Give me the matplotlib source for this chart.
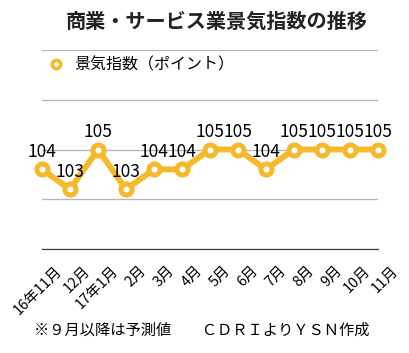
import matplotlib
matplotlib.use("Agg")
import matplotlib.pyplot as plt
from matplotlib.lines import Line2D
import matplotlib.transforms as mtransforms

plt.rcParams['font.family'] = ['Noto Sans CJK JP', 'DejaVu Sans']

categories = ["16年11月", "12月", "17年1月", "2月", "3月", "4月", "5月", "6月",
              "7月", "8月", "9月", "10月", "11月"]
values = [104, 103, 105, 103, 104, 104, 105, 105, 104, 105, 105, 105, 105]
series_name = "景気指数（ポイント）"
title = "商業・サービス業景気指数の推移"
footnote = "※９月以降は予測値　　ＣＤＲＩよりＹＳＮ作成"

color = "#F5BA2C"
W, H = 410, 353
fig = plt.figure(figsize=(W / 100, H / 100), dpi=100)
ax = fig.add_axes([42 / W, 1 - 249 / H, (378 - 42) / W, (249 - 50) / H])

x = list(range(len(categories)))
ax.plot(x, values, color=color, lw=4.3, marker='o', markersize=8,
        markerfacecolor='white', markeredgecolor=color, markeredgewidth=3.6,
        zorder=3, clip_on=False)
for xi, v in zip(x, values):
    ax.annotate(str(v), (xi, v), xytext=(0, 12.5), textcoords='offset points',
                ha='center', va='center', fontsize=12.5, color='black', zorder=4)

ax.set_xlim(0, len(categories) - 1)
ax.set_ylim(100, 110)
ax.set_yticks([100, 102.5, 105, 107.5, 110])
ax.yaxis.grid(True, color='#b3b3b3', lw=0.9)
ax.set_axisbelow(True)
ax.tick_params(axis='y', length=0, labelleft=False)
ax.tick_params(axis='x', length=0, pad=2)
for s in ['top', 'left', 'right']:
    ax.spines[s].set_visible(False)
ax.spines['bottom'].set_color('#404040')
ax.spines['bottom'].set_linewidth(0.9)
ax.set_xticks(x)
ax.set_xticklabels(categories, rotation=45, ha='right', va='top',
                   rotation_mode='anchor', fontsize=10.5)
offset = mtransforms.ScaledTranslation(13 / 100, -12 / 100, fig.dpi_scale_trans)
for lbl in ax.get_xticklabels():
    lbl.set_transform(lbl.get_transform() + offset)

fig.text(217 / W, 1 - 21 / H, title, ha='center', va='center', fontsize=14.5,
         fontweight='bold', color='#222222')

handle = Line2D([], [], color=color, lw=0, marker='o', markersize=6,
                markerfacecolor='white', markeredgecolor=color, markeredgewidth=2.6)
fig.legend([handle], [series_name], loc='center left',
           bbox_to_anchor=(50 / W, 1 - 65 / H), frameon=False, fontsize=11.5,
           handlelength=0.8, handletextpad=0.7, borderpad=0, borderaxespad=0)

fig.text(202 / W, 1 - 330 / H, footnote, ha='center', va='center', fontsize=11,
         color='black')

fig.savefig("out.png", dpi=100)
